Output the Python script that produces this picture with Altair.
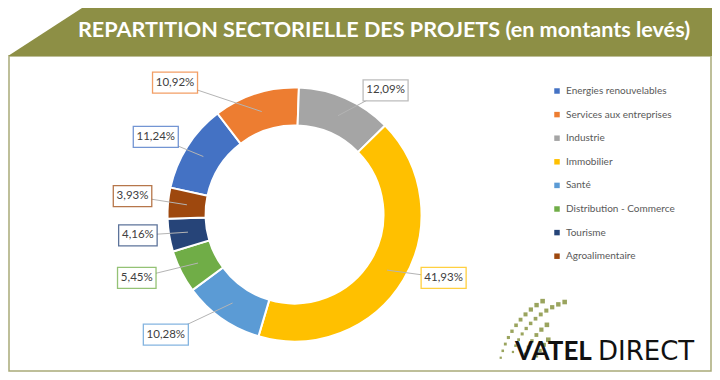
import math
import numpy as np
import pandas as pd
import altair as alt

# ---------------- data ----------------
categories = ["Energies renouvelables", "Services aux entreprises", "Industrie", "Immobilier",
              "Santé", "Distribution - Commerce", "Tourisme", "Agroalimentaire"]
shares = [11.24, 10.92, 12.09, 41.93, 10.28, 5.45, 4.16, 3.93]
colors = ["#4472C4", "#ED7D31", "#A5A5A5", "#FFC000", "#5B9BD5", "#70AD47", "#264478", "#9E480E"]
# order of the slices around the ring, clockwise from the top
ring_order = ["Industrie", "Immobilier", "Santé", "Distribution - Commerce", "Tourisme",
              "Agroalimentaire", "Energies renouvelables", "Services aux entreprises"]

# label placement (labels were moved by hand in the original): angle shift (deg) and radius
label_shift = {"Industrie": 12.5, "Immobilier": -8, "Santé": 12, "Distribution - Commerce": 4.8,
               "Tourisme": 1.8, "Agroalimentaire": 1.3, "Energies renouvelables": -3.2,
               "Services aux entreprises": -24.5}
label_radius = {"Industrie": 154, "Immobilier": 162, "Santé": 176, "Distribution - Commerce": 170,
                "Tourisme": 158, "Agroalimentaire": 163, "Energies renouvelables": 159,
                "Services aux entreprises": 178}

title_text = "REPARTITION SECTORIELLE DES PROJETS (en montants levés)"

# ---------------- layout ----------------
W, H = 704, 364
CX, CY = 286.5, 206.5
R_OUT, R_IN = 127, 89
R_ANCHOR = 108
ROT = 2 * math.pi / 180
OLIVE = "#8d8f45"

df = pd.DataFrame({
    "category": categories,
    "share": shares,
    "ring_pos": [ring_order.index(c) for c in categories],
    "shift": [label_shift[c] for c in categories],
    "lrad": [label_radius[c] for c in categories],
    "label": [f"{v:.2f}".replace(".", ",") + "%" for v in shares],
})

color_scale = alt.Scale(domain=categories, range=colors)

# banner (decoration)
banner_df = pd.DataFrame({"x": [0, 74, 704], "y": [48, 0, 0], "y2": [48, 48, 48]})
banner = alt.Chart(banner_df).mark_area(color=OLIVE, interpolate="linear").encode(
    x=alt.X("x:Q", scale=None), y=alt.Y("y:Q", scale=None), y2="y2:Q")

frame = alt.Chart(pd.DataFrame({"a": [0]})).mark_rect(
    fill="white", stroke="#a9aa78", strokeWidth=1.5).encode(
    x=alt.value(1), x2=alt.value(703), y=alt.value(48), y2=alt.value(363))

title = alt.Chart(pd.DataFrame({"a": [0]})).mark_text(
    text=title_text, font="Lato", fontWeight="bold", fontSize=21.6, color="white",
    align="center", baseline="middle").encode(x=alt.value(376), y=alt.value(23))

ring = alt.Chart(df).mark_arc(innerRadius=R_IN, outerRadius=R_OUT, stroke="white", strokeWidth=2).encode(
    theta=alt.Theta("share:Q", stack=True, scale=alt.Scale(range=[ROT, ROT + 2 * math.pi])),
    order=alt.Order("ring_pos:Q"),
    color=alt.Color("category:N", scale=color_scale, sort=categories,
                    legend=alt.Legend(title=None, orient="none", legendX=544, legendY=78,
                                      symbolType="square", symbolSize=30, symbolStrokeWidth=0,
                                      labelFont="Lato", labelFontSize=10, labelColor="#595959",
                                      labelOffset=4, rowPadding=13.6, padding=0,
                                      labelLimit=200)),
    x=alt.value(CX), y=alt.value(CY),
)

lab = alt.Chart(df).transform_joinaggregate(total="sum(share)").transform_window(
    cum="sum(share)", sort=[alt.SortField("ring_pos")], frame=[None, 0]
).transform_calculate(
    mid=f"{ROT} + 2*PI*(datum.cum - datum.share/2)/datum.total",
).transform_calculate(
    lang="datum.mid + datum.shift*PI/180",
    ax=f"{CX} + {R_ANCHOR}*sin(datum.mid)",
    ay=f"{CY} - {R_ANCHOR}*cos(datum.mid)",
).transform_calculate(
    bx=f"{CX} + datum.lrad*sin(datum.lang)",
    by=f"{CY} - datum.lrad*cos(datum.lang)",
    bw="length(datum.label)*6.5 + 6",
).transform_calculate(
    bx1="datum.bx - datum.bw/2", bx2="datum.bx + datum.bw/2",
    by1="datum.by - 10.5", by2="datum.by + 10.5",
)

leaders = lab.mark_rule(color="#b4b4b4", strokeWidth=1).encode(
    x=alt.X("ax:Q", scale=None), y=alt.Y("ay:Q", scale=None),
    x2="bx:Q", y2="by:Q")

boxes = lab.mark_rect(fill="white", strokeWidth=1.3, strokeOpacity=0.75).encode(
    x=alt.X("bx1:Q", scale=None), x2="bx2:Q",
    y=alt.Y("by1:Q", scale=None), y2="by2:Q",
    stroke=alt.Stroke("category:N", scale=color_scale, legend=None))

texts = lab.mark_text(font="Lato", fontSize=11.5, color="#404040", align="center", baseline="middle").encode(
    x=alt.X("bx:Q", scale=None), y=alt.Y("by:Q", scale=None), text="label:N")

# logo (decoration): fanned dotted arcs + wordmark
dots = []
lc = (582.0, 372.0)
for r, a0, a1 in [(92, 166, 121), (82, 160, 108), (70, 158, 128), (58, 156, 136)]:
    n = int(round(r * math.radians(a0 - a1) / 7.0)) + 1
    for i, a in enumerate(np.linspace(a0, a1, n)):
        t = i / max(n - 1, 1)
        dots.append({"x": lc[0] + r * math.cos(math.radians(a)),
                     "y": lc[1] - r * math.sin(math.radians(a)),
                     "s": 5 + 16 * t})
dots_df = pd.DataFrame(dots)
logo_dots = alt.Chart(dots_df).mark_point(shape="square", filled=True, color="#8f9a4c", opacity=0.9).encode(
    x=alt.X("x:Q", scale=None), y=alt.Y("y:Q", scale=None),
    size=alt.Size("s:Q", scale=None, legend=None))

vatel = alt.Chart(pd.DataFrame({"a": [0]})).mark_text(
    text="VATEL", font="Lato", fontWeight="bold", fontSize=26, color="#111111",
    align="left", baseline="alphabetic").encode(x=alt.value(507), y=alt.value(352))
direct = alt.Chart(pd.DataFrame({"a": [0]})).mark_text(
    text="DIRECT", font="DejaVu Sans", fontWeight="normal", fontSize=26, color="#111111",
    align="left", baseline="alphabetic").encode(x=alt.value(590), y=alt.value(352))

chart = alt.layer(frame, banner, title, ring, leaders, boxes, texts, logo_dots, vatel, direct).properties(
    width=W, height=H, autosize=alt.AutoSizeParams(type="none"), padding=0
).configure_view(stroke=None)

chart.save("out.html", embed_options={"renderer": "svg", "actions": False})
